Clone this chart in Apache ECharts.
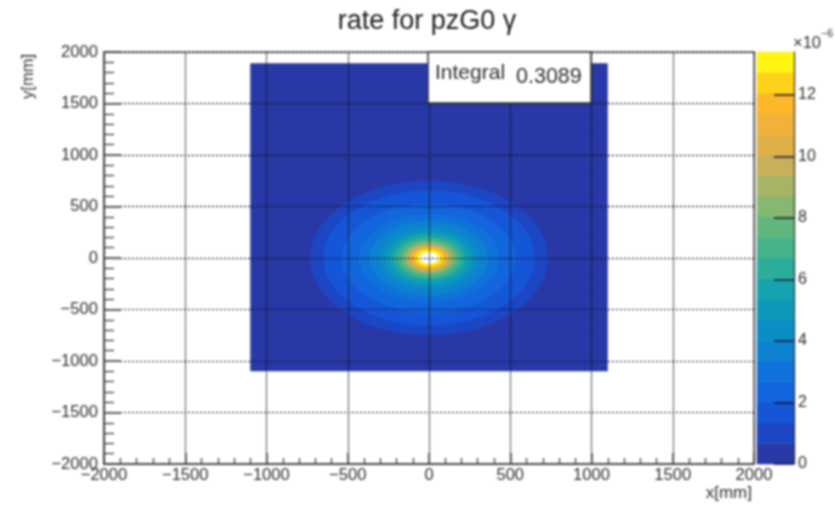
<!DOCTYPE html>
<html><head><meta charset="utf-8">
<style>html,body{margin:0;padding:0;background:#fff}#c{width:835px;height:505px;filter:blur(0.8px)}</style>
<script src="https://cdn.jsdelivr.net/npm/echarts@6/dist/echarts.min.js"></script>
</head><body><div id="c"></div>
<script>
const axisMin = -2000, axisMax = 2000;
const tickStep = 500;
const filledX = [-1100, 1100];
const filledY = [-1100, 1890];
const backgroundRate = 0.3;
// Rate bands: lower edge of each band (x 1e-6) and its half-extent in mm
const bandRates =    [0.7, 1.4, 2.1, 2.7, 3.4, 4.1, 4.7, 5.4, 6.1, 6.7, 7.4, 8.1, 8.8, 9.4, 10.1, 10.8, 11.4, 12.1, 12.8, 13.5];
const bandHalfWidth =  [732, 650, 535, 432, 365, 305, 268, 240, 215, 192, 172, 155, 140, 128, 118, 109, 100, 90, 78, 62];
const bandHalfHeight = [752, 655, 530, 428, 362, 302, 262, 235, 208, 186, 168, 152, 136, 126, 116, 106, 97, 87, 74, 56];
const paletteColours = ['#2838a6','#1c46c4','#1556d8','#1265dc','#0f72da','#0c82d0','#0a8ec6','#0e99ba','#17a3ad','#2bad9a','#45b38a','#60b67d','#85b870','#a8b465','#c8b05a','#e0b048','#f0b238','#fcb828','#ffd21a','#fff510'];
const paletteMax = 13.4;
const paletteTicks = [0,2,4,6,8,10,12];
const statLabel = 'Integral', statValue = '0.3089';
const titleText = 'rate for pzG0 γ';

const levelStep = paletteMax / paletteColours.length;
const colourFor = rate => rate >= paletteMax ? '#ffffff' : paletteColours[Math.floor(rate / levelStep)];
const levelCats = paletteColours.map((_, i) => i);
const barCells = levelCats.map(i => [0, i, (i + 0.5) * levelStep]);
const pieces = paletteColours.map((color, i) => ({ gte: i * levelStep, lt: (i + 1) * levelStep, color }));
const bandData = bandRates.map((r, i) => [r, bandHalfWidth[i], bandHalfHeight[i]]);

const FONT = '"Liberation Sans", Arial, sans-serif';
const TXT = '#2e2e2e', LINE = '#404040';
const fmt = v => String(v).replace('-', '\u2212');
const chart = echarts.init(document.getElementById('c'), null, { renderer: 'canvas' });
chart.setOption({
  animation: false,
  backgroundColor: '#fff',
  textStyle: { fontFamily: FONT },
  title: { text: titleText, left: 422, top: 3, textAlign: 'center',
    textStyle: { fontFamily: FONT, fontSize: 27, fontWeight: 'normal', color: '#1e1e1e' } },
  visualMap: { type: 'piecewise', show: false, seriesIndex: [2], dimension: 2, pieces },
  grid: [
    { left: 104, top: 52, width: 650, height: 412, show: true, borderColor: '#666', borderWidth: 1.5, backgroundColor: 'transparent' },
    { left: 757, top: 52, width: 37, height: 412 }
  ],
  xAxis: [
    { type: 'value', gridIndex: 0, min: axisMin, max: axisMax, interval: tickStep, z: 5,
      name: 'x[mm]', nameLocation: 'end', nameGap: 0,
      nameTextStyle: { color: TXT, fontSize: 17, align: 'right', verticalAlign: 'top', padding: [21, 2, 0, 0] },
      axisLine: { lineStyle: { color: LINE, width: 1.5 }, onZero: false },
      axisTick: { inside: true, length: 11, lineStyle: { color: LINE, width: 1.5 } },
      minorTick: { show: true, splitNumber: 5, length: 6, lineStyle: { color: LINE, width: 1.3 } },
      splitLine: { show: true, lineStyle: { color: '#101020', type: [1.5, 1], width: 1.2 } },
      axisLabel: { color: TXT, fontSize: 16.6, margin: 3, formatter: fmt } },
    { type: 'category', gridIndex: 1, data: [0], show: false }
  ],
  yAxis: [
    { type: 'value', gridIndex: 0, min: axisMin, max: axisMax, interval: tickStep, z: 5,
      name: 'y[mm]', nameLocation: 'end', nameRotate: 90, nameGap: 0,
      nameTextStyle: { color: TXT, fontSize: 16.5, align: 'right', verticalAlign: 'bottom', padding: [0, 2, 67, 0] },
      axisLine: { lineStyle: { color: LINE, width: 1.5 }, onZero: false },
      axisTick: { inside: true, length: 17, lineStyle: { color: LINE, width: 1.5 } },
      minorTick: { show: true, splitNumber: 5, length: 10, lineStyle: { color: LINE, width: 1.3 } },
      splitLine: { show: true, lineStyle: { color: '#101020', type: [2, 2], width: 1.2 } },
      axisLabel: { color: TXT, fontSize: 16.6, margin: 6, formatter: fmt } },
    { type: 'category', gridIndex: 1, data: levelCats, show: false },
    { type: 'value', gridIndex: 1, position: 'right', min: 0, max: paletteMax, z: 5,
      axisLine: { show: true, lineStyle: { color: '#333', width: 1.2 } },
      axisTick: { show: true, inside: true, length: 20, customValues: paletteTicks, lineStyle: { color: '#14142e', width: 1.6, opacity: 0.9 } },
      splitLine: { show: false },
      axisLabel: { show: true, color: TXT, fontSize: 16, margin: 4, customValues: paletteTicks } }
  ],
  series: [
    { type: 'custom', xAxisIndex: 0, yAxisIndex: 0, z: 2, silent: true, clip: true,
      encode: { x: 0, y: 1 }, data: [[filledX[0], filledY[1], filledX[1], filledY[0], backgroundRate]],
      renderItem: (p, api) => {
        const a = api.coord([api.value(0), api.value(1)]), b = api.coord([api.value(2), api.value(3)]);
        return { type: 'rect', shape: { x: a[0], y: a[1], width: b[0] - a[0], height: b[1] - a[1] },
          style: { fill: colourFor(api.value(4)) } };
      } },
    { type: 'custom', xAxisIndex: 0, yAxisIndex: 0, z: 3, silent: true, clip: true,
      encode: { x: 1, y: 2 }, data: bandData,
      renderItem: (p, api) => {
        const c = api.coord([0, 0]), s = api.size([api.value(1), api.value(2)]);
        return { type: 'ellipse', shape: { cx: c[0], cy: c[1], rx: s[0], ry: s[1] },
          style: { fill: colourFor(api.value(0)) } };
      } },
    { type: 'heatmap', xAxisIndex: 1, yAxisIndex: 1, data: barCells, z: 2, silent: true }
  ],
  graphic: [
    { type: 'rect', z: 100, shape: { x: 428, y: 52, width: 163, height: 51 }, style: { fill: '#fff', stroke: '#2e2e2e', lineWidth: 1.5 } },
    { type: 'text', z: 101, x: 435, y: 63, style: { text: statLabel, font: '21px ' + FONT, fill: '#2e2e2e' } },
    { type: 'text', z: 101, x: 516, y: 66, style: { text: statValue, font: '21.5px ' + FONT, fill: '#2e2e2e' } },
    { type: 'text', z: 101, x: 793, y: 35, style: { text: '×10', font: '16.5px ' + FONT, fill: TXT } },
    { type: 'text', z: 101, x: 821, y: 29, style: { text: '\u22126', font: '10.5px ' + FONT, fill: TXT } }
  ]
});
</script></body></html>
